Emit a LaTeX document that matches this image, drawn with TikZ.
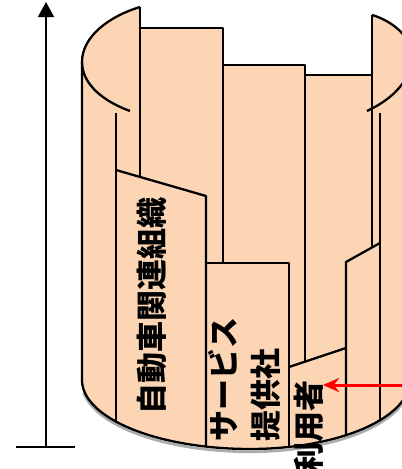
\documentclass[tikz,border=0pt]{standalone}
\usepackage{fontspec}
\newfontfamily\cjk{Noto Sans CJK JP}
\usetikzlibrary{arrows.meta}
\definecolor{peach}{HTML}{FCD5B5}
\begin{document}
\begin{tikzpicture}[x=1pt,y=-1pt,line join=round,
  edge/.style={line width=2.3pt},
  lbl/.style={font=\cjk\bfseries\fontsize{31}{42}\selectfont,rotate=90,inner sep=0pt,align=left}]
\useasboundingbox (0,0) rectangle (402,469);
\clip (0,0) rectangle (402,469);
% body fill
\fill[peach] (140,7) .. controls (110,16) and (82,36) .. (82,62) -- (82,380)
  -- plot[domain=180:90,samples=50] ({250+168*cos(\x)},{380+69*sin(\x)})
  -- plot[domain=90:0,samples=50] ({250+160*cos(\x)},{380+69*sin(\x)})
  -- (420,380) -- (420,56) -- (412,56) .. controls (412,36) and (390,20) .. (372,15)
  -- (372,75) -- (305,75) -- (305,65) -- (223,65) -- (223,28) -- (140,28) -- cycle;
% shadow under bottom
\draw[gray!65,line width=2.6pt] plot[domain=172:90,samples=50] ({250+168*cos(\x)},{382.8+69*sin(\x)})
  -- plot[domain=90:0,samples=50] ({250+160*cos(\x)},{382.8+69*sin(\x)});
% inner lines
\draw[edge] (140,7) -- (140,177);
\draw[edge] (140,28) -- (223,28) -- (223,263);
\draw[edge] (223,65) -- (305,65) -- (305,362);
\draw[edge] (305,75) -- (372,75);
\draw[edge] (372,15) -- (372,248);
\draw[edge] (380,113) -- (380,421);
\draw[edge] (380,243) -- (346,262) -- (346,436);
\draw[edge] (116,113) -- (116,422);
\draw[edge] (116,170) -- (206,196) -- (206,447);
\draw[edge] (206,263) -- (289,263) -- (289,448);
\draw[edge] (289,367) -- (346,348);
% caps
\draw[edge] (140,7) .. controls (110,16) and (82,36) .. (82,62) .. controls (82,85) and (105,102) .. (130,111);
\draw[edge] (372,15) .. controls (390,20) and (412,36) .. (412,56) .. controls (412,78) and (395,98) .. (367,111);
% outer wall and bottom
\draw[edge] (82,62) -- (82,380)
  -- plot[domain=180:90,samples=50] ({250+168*cos(\x)},{380+69*sin(\x)})
  -- plot[domain=90:0,samples=50] ({250+160*cos(\x)},{380+69*sin(\x)});
% labels
\node[lbl] (org) at (152,306) {自動車関連組織};
\node[lbl] (svc) at (244,379) {サービス\\提供社};
\node[lbl] (usr) at (309,427) {利用者};
% red arrow
\coordinate (rs) at (410,385);
\coordinate (rt) at (323,385);
\draw[red,line width=3pt,-{Stealth[length=16pt,width=14pt,inset=5pt]}] (rs) -- (rt);
% axis
\coordinate (ab) at (46,447);
\coordinate (at) at (46,2);
\coordinate (bl) at (16,447);
\coordinate (br) at (75,447);
\draw[line width=1.7pt,-{Triangle[length=15pt,width=16pt]}] (ab) -- (at);
\draw[line width=1.7pt] (bl) -- (br);
\end{tikzpicture}
\end{document}
